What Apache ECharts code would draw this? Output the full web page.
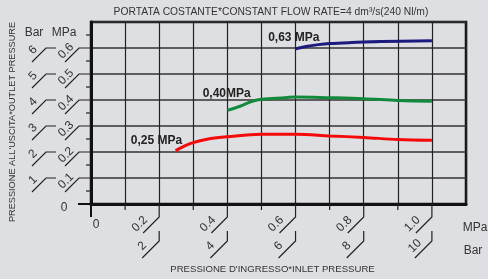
<!DOCTYPE html>
<html>
<head>
<meta charset="utf-8">
<script src="https://cdn.jsdelivr.net/npm/echarts@6/dist/echarts.min.js"></script>
<style>
html,body{margin:0;padding:0;background:#dedfe2;}
#chart{width:488px;height:279px;}
</style>
</head>
<body>
<div id="chart"></div>
<script>
// ---- data ----
const xTickVals = [0.2, 0.4, 0.6, 0.8, 1.0];
const xLabelsMPa = ['0.2', '0.4', '0.6', '0.8', '1.0'];
const xLabelsBar = ['2', '4', '6', '8', '10'];
const xMinorTicks = [0.1, 0.3, 0.5, 0.7, 0.9];
const yTickVals = [0.1, 0.2, 0.3, 0.4, 0.5, 0.6];
const yLabelsMPa = ['0.1', '0.2', '0.3', '0.4', '0.5', '0.6'];
const yLabelsBar = ['1', '2', '3', '4', '5', '6'];
const yMinorTicks = [0.05, 0.15, 0.25, 0.35, 0.45, 0.55, 0.65];

const inlet025 = [0.248, 0.28, 0.3, 0.347, 0.4, 0.5, 0.6, 0.7, 0.8, 0.9, 1.0];
const outlet025 = [0.205, 0.226, 0.236, 0.251, 0.259, 0.268, 0.268, 0.262, 0.256, 0.248, 0.245];
const inlet040 = [0.4, 0.435, 0.473, 0.5, 0.57, 0.6, 0.7, 0.8, 0.9, 1.0];
const outlet040 = [0.36, 0.375, 0.395, 0.403, 0.409, 0.412, 0.409, 0.405, 0.398, 0.395];
const inlet063 = [0.6, 0.63, 0.667, 0.7, 0.765, 0.85, 1.0];
const outlet063 = [0.597, 0.606, 0.613, 0.617, 0.621, 0.625, 0.628];

const seriesNames = ['0,25 MPa', '0,40MPa', '0,63 MPa'];
const labelPos = [[0.192, 0.242], [0.398, 0.424], [0.595, 0.64]];

const title = 'PORTATA COSTANTE*CONSTANT FLOW RATE=4 dm³/s(240 Nl/m)';
const yName = "PRESSIONE ALL'USCITA*OUTLET PRESSURE";
const xName = "PRESSIONE D'INGRESSO*INLET PRESSURE";

// ---- chart ----
const FONT = 'Liberation Sans, Arial, sans-serif';
const INK = '#222';
const chart = echarts.init(document.getElementById('chart'), null, {renderer: 'canvas'});

function zip(a, b) { return a.map((v, i) => [v, b[i]]); }

function curve(name, xs, ys, color, lp) {
  return {
    name: name, type: 'line', data: zip(xs, ys), smooth: 0.35,
    symbol: 'none', lineStyle: {color: color, width: 3}, z: 5,
    markPoint: {
      symbol: 'rect', symbolSize: 1, itemStyle: {color: 'rgba(0,0,0,0)'},
      data: [{coord: lp}],
      label: {show: true, position: 'inside', formatter: name,
        fontFamily: FONT, fontWeight: 'bold', fontSize: 12, color: INK}
    }
  };
}

function line(pts) {
  return {type: 'polyline', shape: {points: pts}, style: {stroke: INK, lineWidth: 1.2, fill: null}};
}
function txt(s, x, y, rot) {
  return {type: 'text', x: x, y: y, rotation: rot || 0,
    style: {text: s, fill: '#333', font: '12px ' + FONT, align: 'center', verticalAlign: 'middle'}};
}

const option = {
  backgroundColor: '#dedfe2',
  animation: false,
  grid: {left: 87, top: 22, right: 22, bottom: 69, show: true, borderColor: '#111', borderWidth: 2.5, backgroundColor: 'transparent'},
  xAxis: {
    type: 'value', min: 0, max: 1.1, interval: 0.1,
    axisLine: {lineStyle: {color: '#111', width: 3}},
    axisTick: {show: false}, axisLabel: {show: false},
    splitLine: {show: true, lineStyle: {color: '#222', width: 1.2}},
    name: xName, nameLocation: 'middle', nameGap: 60,
    nameTextStyle: {fontFamily: FONT, fontSize: 9.6, color: '#333', padding: [0, 12, 0, 0]}
  },
  yAxis: {
    type: 'value', min: 0, max: 0.7, interval: 0.1,
    axisLine: {show: true, lineStyle: {color: '#111', width: 3}},
    axisTick: {show: false}, axisLabel: {show: false},
    splitLine: {show: true, lineStyle: {color: '#333', width: 1.5}},
    name: yName, nameLocation: 'middle', nameGap: 74, nameRotate: 90,
    nameTextStyle: {fontFamily: FONT, fontSize: 9.2, color: '#333', padding: [0, 18, 0, 0]}
  },
  graphic: [
    {type: 'text', x: 271, y: 12, style: {text: title, fill: '#333', font: '10.3px ' + FONT, align: 'center', verticalAlign: 'middle'}},
    {type: 'text', x: 34, y: 33, style: {text: 'Bar', fill: '#333', font: '12px ' + FONT, align: 'center', verticalAlign: 'middle'}},
    {type: 'text', x: 64, y: 33, style: {text: 'MPa', fill: '#333', font: '12px ' + FONT, align: 'center', verticalAlign: 'middle'}},
    {type: 'text', x: 475, y: 228, style: {text: 'MPa', fill: '#333', font: '12px ' + FONT, align: 'center', verticalAlign: 'middle'}},
    {type: 'text', x: 473, y: 251, style: {text: 'Bar', fill: '#333', font: '12px ' + FONT, align: 'center', verticalAlign: 'middle'}}
  ],
  series: [
    curve(seriesNames[0], inlet025, outlet025, '#f50a0a', labelPos[0]),
    curve(seriesNames[1], inlet040, outlet040, '#128a3c', labelPos[1]),
    curve(seriesNames[2], inlet063, outlet063, '#1b1a7e', labelPos[2]),
    { // x axis labels with leaders
      type: 'custom', z: 6, silent: true,
      data: xTickVals.map((v, i) => [v, 0, i]),
      renderItem: function (params, api) {
        const p = api.coord([api.value(0), 0]); const i = api.value(2);
        const x = p[0], y = p[1];
        return {type: 'group', children: [
          line([[x, y], [x, y + 13], [x - 16, y + 29]]),
          line([[x, y + 27], [x, y + 37], [x - 17, y + 54]]),
          txt(xLabelsMPa[i], x - 19.5, y + 20, Math.PI / 4),
          txt(xLabelsBar[i], x - 17, y + 42, Math.PI / 4)
        ]};
      }
    },
    { // x minor ticks
      type: 'custom', z: 6, silent: true,
      data: xMinorTicks.map(v => [v, 0]),
      renderItem: function (params, api) {
        const p = api.coord([api.value(0), 0]);
        return line([[p[0], p[1]], [p[0], p[1] + 6]]);
      }
    },
    { // y axis labels with leaders
      type: 'custom', z: 6, silent: true,
      data: yTickVals.map((v, i) => [0, v, i]),
      renderItem: function (params, api) {
        const p = api.coord([0, api.value(1)]); const i = api.value(2);
        const x = p[0], y = p[1];
        return {type: 'group', children: [
          line([[x, y], [x - 12, y], [x - 26, y + 14]]),
          line([[x - 35, y], [x - 45, y], [x - 59, y + 14]]),
          txt(yLabelsMPa[i], x - 25, y + 3, Math.PI / 4),
          txt(yLabelsBar[i], x - 58, y + 2, Math.PI / 4)
        ]};
      }
    },
    { // y minor ticks
      type: 'custom', z: 6, silent: true,
      data: yMinorTicks.map(v => [0, v]),
      renderItem: function (params, api) {
        const p = api.coord([0, api.value(1)]);
        return line([[p[0] - 5, p[1]], [p[0], p[1]]]);
      }
    },
    { // origin ticks and zero labels
      type: 'custom', z: 6, silent: true,
      data: [[0, 0]],
      renderItem: function (params, api) {
        const p = api.coord([0, 0]);
        const x = p[0], y = p[1];
        return {type: 'group', children: [
          {type: 'line', shape: {x1: x, y1: y, x2: x, y2: y + 13}, style: {stroke: '#111', lineWidth: 2}},
          {type: 'line', shape: {x1: x, y1: y, x2: x - 13, y2: y}, style: {stroke: '#111', lineWidth: 2}},
          txt('0', x + 5, y + 21, 0),
          txt('0', x - 27, y + 4, 0)
        ]};
      }
    }
  ]
};
chart.setOption(option);
</script>
</body>
</html>
